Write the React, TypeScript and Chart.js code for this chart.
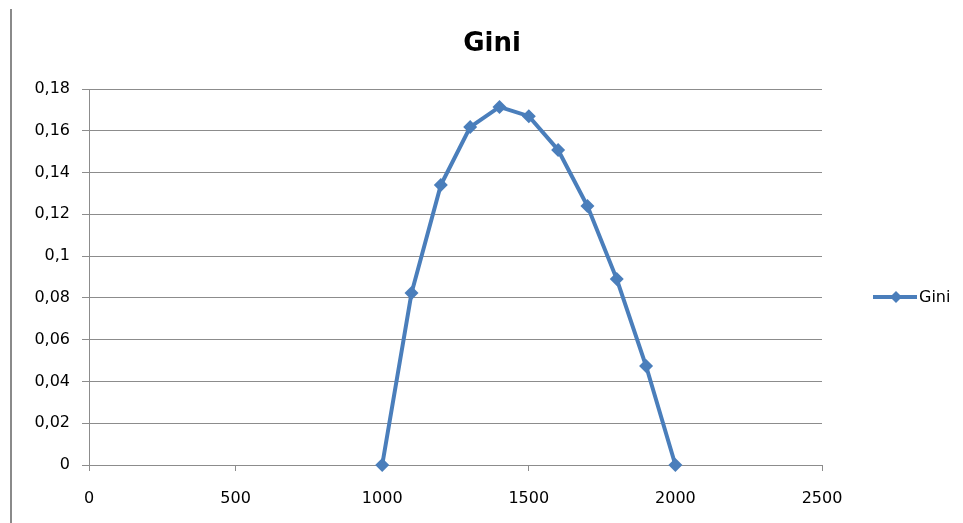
import React, { useEffect, useRef } from "react";
import { Chart, registerables } from "chart.js";

Chart.register(...registerables);

const thresholds = [1000, 1100, 1200, 1300, 1400, 1500, 1600, 1700, 1800, 1900, 2000];
const giniValues = [0, 0.0823, 0.134, 0.1618, 0.1714, 0.167, 0.1508, 0.124, 0.089, 0.0474, 0];
const seriesName = "Gini";
const chartTitle = "Gini";

const BLUE = "#4A7EBB";
const GRID = "#8c8c8c";
const FONT = "'DejaVu Sans', sans-serif";

const decorPlugin = {
  id: "decor",
  beforeDraw(chart: any) {
    const ctx = chart.ctx;
    ctx.save();
    ctx.fillStyle = "#ffffff";
    ctx.fillRect(0, 0, chart.width, chart.height);
    ctx.strokeStyle = "#8a8a8a";
    ctx.lineWidth = 2;
    ctx.beginPath();
    ctx.moveTo(11, 9);
    ctx.lineTo(11, chart.height);
    ctx.stroke();
    ctx.restore();
  },
  afterDraw(chart: any) {
    const ctx = chart.ctx;
    ctx.save();
    // title
    ctx.fillStyle = "#000000";
    ctx.font = `bold 26px ${FONT}`;
    ctx.textAlign = "center";
    ctx.textBaseline = "alphabetic";
    ctx.fillText(chartTitle, 492, 51);
    // legend
    const ly = 297;
    ctx.strokeStyle = BLUE;
    ctx.lineWidth = 4;
    ctx.beginPath();
    ctx.moveTo(873, ly);
    ctx.lineTo(917, ly);
    ctx.stroke();
    ctx.fillStyle = BLUE;
    ctx.beginPath();
    const cx = 896, r = 6;
    ctx.moveTo(cx, ly - r);
    ctx.lineTo(cx + r, ly);
    ctx.lineTo(cx, ly + r);
    ctx.lineTo(cx - r, ly);
    ctx.closePath();
    ctx.fill();
    ctx.fillStyle = "#000000";
    ctx.font = `16px ${FONT}`;
    ctx.textAlign = "left";
    ctx.textBaseline = "alphabetic";
    ctx.fillText(seriesName, 919, 302);
    ctx.restore();
  },
};

function fmt(v: number) {
  return String(Number(v.toFixed(2))).replace(".", ",");
}

export default function App() {
  const ref = useRef<HTMLCanvasElement>(null);
  useEffect(() => {
    if (!ref.current) return;
    const chart = new Chart(ref.current, {
      type: "line",
      data: {
        datasets: [
          {
            label: seriesName,
            data: thresholds.map((x, i) => ({ x, y: giniValues[i] })),
            borderColor: BLUE,
            backgroundColor: BLUE,
            borderWidth: 4,
            pointStyle: "rectRot",
            pointRadius: 7,
            pointHoverRadius: 7,
            pointBorderWidth: 0,
            tension: 0,
            clip: false,
          },
        ],
      },
      plugins: [decorPlugin],
      options: {
        animation: false,
        responsive: true,
        maintainAspectRatio: false,
        layout: { padding: { left: 0, top: 89, right: 141, bottom: 0 } },
        plugins: {
          legend: { display: false },
          title: { display: false },
          tooltip: { enabled: false },
        },
        scales: {
          x: {
            type: "linear",
            min: 0,
            max: 2500,
            afterFit: (s: any) => {
              s.height = 58;
            },
            ticks: {
              stepSize: 500,
              color: "#000",
              font: { family: FONT, size: 16 },
              padding: 18,
              maxRotation: 0,
              callback: (v: any) => String(v),
            },
            grid: {
              drawOnChartArea: false,
              drawTicks: true,
              tickLength: 6,
              color: GRID,
              tickColor: GRID,
            },
            border: { display: true, color: GRID, width: 1 },
          },
          y: {
            min: 0,
            max: 0.18,
            afterFit: (s: any) => {
              s.width = 89;
            },
            ticks: {
              stepSize: 0.02,
              color: "#000",
              font: { family: FONT, size: 16 },
              padding: 12,
              callback: (v: any) => fmt(Number(v)),
            },
            grid: {
              drawOnChartArea: true,
              drawTicks: true,
              tickLength: 7,
              color: GRID,
              tickColor: GRID,
              lineWidth: 1,
            },
            border: { display: true, color: GRID, width: 1 },
          },
        },
      },
    } as any);
    return () => chart.destroy();
  }, []);
  return (
    <div style={{ position: "fixed", left: 0, top: 0, width: 963, height: 523, background: "#fff" }}>
      <canvas ref={ref} />
    </div>
  );
}
